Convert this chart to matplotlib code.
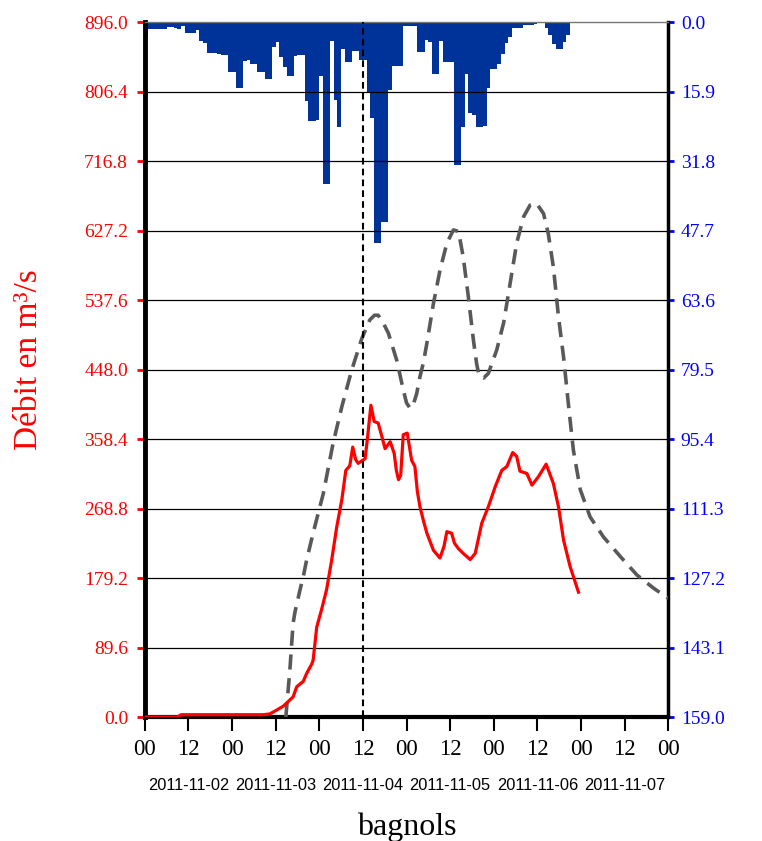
import matplotlib
matplotlib.use('Agg')
import matplotlib.pyplot as plt
import numpy as np
import pandas as pd

plt.rcParams['font.family'] = ['Liberation Serif', 'DejaVu Serif']

# time axis: hours since 2011-11-02 00:00
START = pd.Timestamp('2011-11-02 00:00')

# hourly rainfall (mm)
rain_mm = [3.4, 1.5, 1.5, 1.5, 1.5, 1.5, 1.1, 1.2, 1.3, 1.5,
           0.9, 2.5, 2.5, 2.5, 1.9, 4.4, 4.8, 7.1, 7.1, 7.0,
           7.4, 7.6, 7.6, 11.4, 11.4, 15.1, 15.1, 9.0, 8.7, 9.6,
           9.6, 11.4, 11.4, 13.0, 13.0, 5.8, 4.6, 7.9, 10.4, 12.3,
           12.3, 7.7, 7.6, 7.6, 18.0, 22.7, 22.7, 22.5, 12.4, 37.1,
           37.1, 4.3, 17.8, 24.0, 6.1, 9.2, 9.2, 6.6, 6.7, 8.8,
           8.8, 15.9, 22.0, 50.5, 50.5, 45.7, 45.7, 15.5, 10.1, 10.1,
           10.1, 0.8, 1.0, 1.0, 0.8, 6.9, 6.9, 4.0, 4.6, 12.0,
           12.0, 4.4, 9.2, 9.2, 9.2, 32.6, 32.6, 24.1, 11.9, 20.7,
           21.3, 24.0, 24.0, 23.7, 15.2, 10.7, 10.7, 9.6, 7.3, 4.8,
           3.4, 1.4, 1.4, 1.4, 0.6, 0.6, 0.6, 0.5, 0.3, 0.3,
           1.4, 3.0, 5.0, 6.2, 6.2, 4.6, 3.0]
rain_hours = np.arange(len(rain_mm))

# observed discharge (m3/s)
obs_hours = [0, 9, 10, 32.5, 34.4, 36.3, 38.1, 40.8, 41.8, 43.6, 44.5, 45.9,
             46.3, 46.7, 47.3, 48.6, 50, 51.4, 52.8, 54.2, 55.3, 56.4, 57.2,
             58, 58.7, 59.6, 60.6, 61.2, 62.2, 63.1, 64.2, 65.2, 66.1, 67.5,
             68.6, 69.2, 69.8, 70.4, 71.1, 72.2, 73.4, 74.3, 75.0, 75.7, 76.6,
             77.6, 78.5, 79.4, 81.2, 82.3, 83.1, 84.4, 85.2, 86.3, 87.6, 89.5,
             90.9, 92.7, 94.5, 96.4, 98.2, 99.6, 101.2, 102.3, 103.2, 105.1,
             106.5, 108.3, 110.4, 112.4, 113.8, 115.2, 117, 119.3]
obs_flow = [0, 0, 3, 3, 4, 9, 14, 26, 39, 46, 56, 68,
            73, 90, 116, 138, 164, 202, 245, 280, 318, 324, 348,
            332, 327, 330, 333, 357, 402, 381, 379, 362, 346, 355,
            340, 318, 306, 312, 364, 366, 331, 323, 290, 271, 254,
            237, 226, 215, 205, 220, 239, 237, 224, 217, 211, 203,
            211, 250, 271, 297, 318, 323, 341, 336, 317, 314,
            299, 310, 326, 301, 271, 228, 194, 161]

# simulated discharge (m3/s)
sim_hours = [38.8, 39.9, 40.8, 41.3, 42.7, 43.6, 44.5, 46.3, 49.1, 51.8, 54.2,
             56.9, 59.7, 61.9, 63.2, 64.2, 65.6, 67, 69.3, 71.1, 72.0, 73,
             73.8, 74.8, 75.7, 76.6, 77.6, 79.4, 81.2, 83.1, 84.9, 86.3, 87.6,
             89, 90.4, 91.3, 92, 93.2, 94.5, 96.8, 98.7, 100.5, 102.3, 104.2,
             106, 107.8, 109.7, 111, 112.4, 113.8, 115.2, 116.6, 117.9, 119.8,
             122.5, 126.2, 130.8, 135.4, 140, 144]
sim_flow = [0, 60, 121, 135, 164, 181, 202, 237, 288, 353, 400,
            447, 488, 512, 518, 518, 508, 495, 460, 422, 405, 398,
            402, 417, 439, 456, 482, 533, 576, 611, 628, 626, 593,
            542, 486, 455, 439, 437, 443, 473, 508, 559, 611, 645,
            660, 662, 649, 623, 580, 516, 464, 400, 344, 293,
            258, 232, 207, 183, 166, 153]

flow_ticks = np.arange(11) * 89.6
rain_ticks = np.arange(11) * 15.9
hour_ticks = np.arange(0, 145, 12)
event_hour = 60
station = 'bagnols'

fig = plt.figure(figsize=(7.62, 8.41), dpi=100)
ax = fig.add_axes([0.190, 0.1474, 0.687, 0.8264])
ax2 = ax.twinx()
ax.set_zorder(2)
ax.patch.set_visible(False)

# rainfall hanging from the top
ax2.bar(rain_hours, rain_mm, width=1.0, align='edge', color='#003399', linewidth=0)
ax2.set_ylim(159, 0)
ax2.set_yticks(rain_ticks)
ax2.set_yticklabels([f'{v:.1f}' for v in rain_ticks])
ax2.tick_params(axis='y', colors='blue', labelcolor='blue', labelsize=14,
                length=4, width=2, pad=5)
for s in ax2.spines.values():
    s.set_visible(False)

# discharge
for v in flow_ticks[1:-1]:
    ax.axhline(v, color='black', lw=0.9, zorder=1)
ax.plot(sim_hours, sim_flow, color='#595959', lw=2.6, dashes=(4.2, 2.4), zorder=3)
ax.plot(obs_hours, obs_flow, color='red', lw=2.3, zorder=4)
ax.axvline(event_hour, color='black', lw=1.5, dashes=(3.2, 2), zorder=5)

ax.set_xlim(0, 144)
ax.set_ylim(0, 896)
ax.set_yticks(flow_ticks)
ax.set_yticklabels([f'{v:.1f}' for v in flow_ticks])
ax.tick_params(axis='y', colors='red', labelcolor='red', labelsize=14,
               length=6, width=2, pad=6)
ax.set_xticks(hour_ticks)
ax.set_xticklabels(['00' if h % 24 == 0 else '12' for h in hour_ticks])
ax.tick_params(axis='x', colors='black', labelsize=16.5, length=10, width=1.5, pad=6)

ax.spines['left'].set_linewidth(3.5)
ax.spines['bottom'].set_linewidth(3)
ax.spines['right'].set_linewidth(2.5)
ax.spines['top'].set_linewidth(1)
ax.spines['top'].set_color('#777777')

for d in range(6):
    day = (START + pd.Timedelta(days=d)).strftime('%Y-%m-%d')
    ax.text(12 + 24 * d, -0.099, day, transform=ax.get_xaxis_transform(),
            ha='center', va='center', fontsize=11.8, family='Liberation Sans')

ax.text(0.5, -0.158, station, transform=ax.transAxes, ha='center', va='center',
        fontsize=23)
fig.text(0.038, 0.572, 'Débit en m³/s', rotation=90, color='red',
         ha='center', va='center', fontsize=24)

fig.savefig('out.png', dpi=100)
